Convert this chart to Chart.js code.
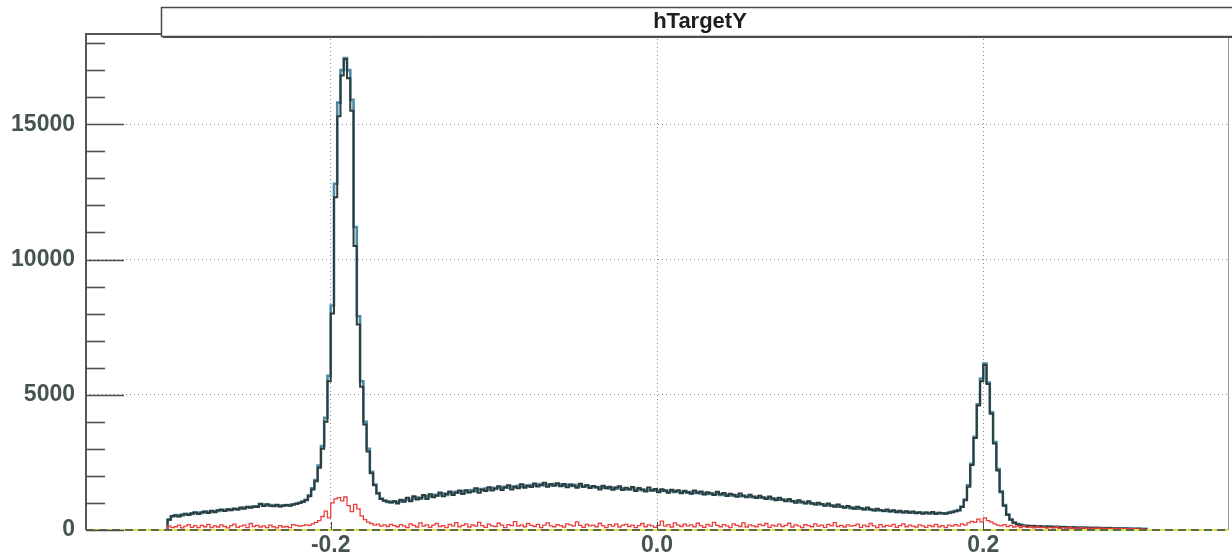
<!DOCTYPE html>
<html>
<head>
<meta charset="utf-8">
<title>hTargetY</title>
<script src="https://cdn.jsdelivr.net/npm/chart.js@4.4.1/dist/chart.umd.min.js"></script>
<style>
  html, body { margin: 0; padding: 0; background: #ffffff; }
  #wrap { width: 1232px; height: 559px; position: relative; }
</style>
</head>
<body>
<div id="wrap"><canvas id="targetChart"></canvas></div>
<script>
// histogram binning (300 bins from -0.3 to 0.3)
const binLow = -0.3;
const binWidth = 0.002;

const xRange = [-0.35, 0.35];
const yRange = [0, 18300];

const xTicks = [-0.2, 0.0, 0.2];
const xTickLabels = ["-0.2", "0.0", "0.2"];
const yTicks = [0, 5000, 10000, 15000];
const yTickLabels = ["0", "5000", "10000", "15000"];

const histTitle = "hTargetY";

// main histogram (dark)
const countsAll = [
  380, 520, 540, 500, 570, 580, 550, 620, 640, 590,
  660, 670, 630, 710, 660, 730, 740, 700, 770, 730,
  790, 760, 830, 790, 860, 820, 870, 850, 970, 890,
  950, 900, 880, 930, 870, 900, 920, 900, 940, 970,
  1000, 1040, 1100, 1250, 1500, 1800, 2300, 3000, 4000, 5500,
  8000, 12300, 15300, 16800, 17400, 16700, 15500, 10500, 7600, 5300,
  3900, 2900, 2100, 1650, 1350, 1150, 1080, 1050, 1020, 1060,
  980, 1120, 1040, 1190, 1060, 1250, 1130, 1180, 1290, 1150,
  1320, 1210, 1280, 1390, 1250, 1330, 1420, 1290, 1380, 1460,
  1330, 1470, 1390, 1420, 1540, 1380, 1500, 1440, 1580, 1460,
  1530, 1620, 1480, 1570, 1650, 1500, 1600, 1540, 1690, 1560,
  1640, 1590, 1720, 1610, 1660, 1750, 1600, 1690, 1640, 1730,
  1620, 1700, 1580, 1680, 1640, 1560, 1710, 1600, 1650, 1550,
  1630, 1580, 1500, 1640, 1540, 1600, 1490, 1570, 1620, 1480,
  1560, 1510, 1590, 1440, 1550, 1500, 1420, 1570, 1460, 1520,
  1400, 1510, 1450, 1380, 1490, 1420, 1470, 1360, 1450, 1400,
  1340, 1460, 1380, 1420, 1310, 1400, 1350, 1290, 1410, 1320,
  1370, 1260, 1340, 1300, 1230, 1350, 1270, 1210, 1300, 1240,
  1180, 1270, 1200, 1150, 1240, 1160, 1100, 1190, 1120, 1060,
  1150, 1070, 1010, 1100, 1030, 980, 1060, 990, 940, 1010,
  960, 900, 980, 910, 860, 940, 870, 820, 890, 830,
  790, 860, 800, 760, 830, 770, 720, 790, 740, 700,
  760, 690, 730, 660, 710, 650, 690, 640, 680, 620,
  660, 600, 650, 610, 670, 590, 640, 620, 600, 650,
  660, 690, 720, 850, 1100, 1600, 2400, 3400, 4600, 5500,
  6100, 5400, 4300, 3200, 2200, 1400, 900, 560, 380, 270,
  210, 180, 160, 150, 140, 150, 130, 140, 120, 130,
  120, 110, 120, 100, 110, 100, 90, 100, 90, 80,
  90, 80, 80, 70, 80, 70, 70, 60, 70, 60,
  60, 60, 50, 60, 50, 50, 40, 50, 40, 40
];

// second selection (blue), drawn underneath
const countsSel = [
  390, 500, 550, 520, 540, 600, 570, 590, 650, 620,
  630, 690, 660, 680, 690, 700, 760, 720, 740, 760,
  780, 770, 800, 820, 840, 850, 860, 880, 950, 920,
  930, 920, 900, 910, 890, 910, 920, 920, 940, 970,
  1010, 1050, 1120, 1280, 1540, 1850, 2380, 3100, 4150, 5700,
  8300, 12800, 15800, 17000, 17450, 17000, 15900, 11200, 7900, 5500,
  4000, 3000, 2150, 1680, 1370, 1160, 1090, 1040, 1030, 1050,
  1050, 1060, 1100, 1130, 1120, 1180, 1200, 1160, 1230, 1250,
  1240, 1300, 1270, 1320, 1350, 1300, 1380, 1360, 1410, 1380,
  1430, 1400, 1460, 1480, 1440, 1510, 1470, 1530, 1500, 1560,
  1520, 1570, 1550, 1600, 1560, 1610, 1580, 1630, 1600, 1640,
  1620, 1660, 1640, 1670, 1700, 1650, 1680, 1660, 1700, 1670,
  1680, 1640, 1660, 1630, 1670, 1620, 1640, 1600, 1630, 1590,
  1600, 1570, 1590, 1560, 1580, 1540, 1560, 1530, 1550, 1520,
  1530, 1500, 1520, 1490, 1510, 1470, 1490, 1460, 1480, 1450,
  1460, 1440, 1470, 1420, 1440, 1410, 1430, 1400, 1420, 1380,
  1400, 1370, 1390, 1350, 1370, 1330, 1360, 1320, 1340, 1300,
  1310, 1290, 1300, 1270, 1280, 1250, 1260, 1230, 1240, 1210,
  1220, 1190, 1200, 1170, 1180, 1140, 1150, 1120, 1130, 1090,
  1100, 1060, 1070, 1030, 1040, 1000, 1010, 970, 980, 940,
  950, 920, 930, 890, 900, 860, 870, 840, 850, 810,
  820, 790, 800, 770, 780, 750, 750, 720, 730, 700,
  710, 690, 700, 670, 680, 660, 660, 650, 650, 640,
  640, 630, 640, 620, 630, 620, 630, 610, 620, 630,
  670, 700, 740, 870, 1130, 1650, 2450, 3450, 4650, 5600,
  6150, 5450, 4350, 3250, 2250, 1430, 920, 570, 390, 280,
  220, 190, 165, 155, 145, 150, 135, 140, 125, 130,
  125, 115, 120, 105, 110, 100, 95, 100, 90, 85,
  90, 85, 80, 75, 80, 70, 70, 65, 70, 60,
  65, 60, 55, 60, 55, 50, 45, 50, 45, 40
];

// background selection (red)
const countsBkg = [
  150, 90, 120, 180, 80, 140, 200, 100, 160, 90,
  170, 120, 210, 90, 150, 110, 190, 130, 80, 160,
  220, 100, 140, 180, 90, 240, 130, 170, 110, 150,
  90, 180, 120, 80, 160, 110, 130, 90, 200, 170,
  140, 160, 190, 170, 230, 280, 350, 500, 700, 450,
  1000, 1150, 1200, 1080, 1220, 900, 680, 950, 780, 520,
  380, 290, 240, 180, 220, 140, 190, 130, 210, 160,
  120, 200, 150, 90, 230, 170, 110, 260, 140, 190,
  100, 180, 240, 130, 160, 90, 210, 150, 270, 120,
  170, 230, 110, 190, 140, 280, 160, 100, 220, 150,
  130, 250, 180, 90, 200, 160, 310, 140, 190, 120,
  240, 170, 130, 210, 90, 180, 260, 150, 120, 200,
  160, 110, 230, 190, 140, 300, 170, 100, 210, 150,
  180, 120, 250, 160, 90, 200, 140, 230, 110, 170,
  210, 130, 180, 90, 160, 240, 120, 190, 150, 100,
  170, 330, 140, 200, 110, 260, 180, 130, 220, 150,
  190, 120, 250, 160, 100, 210, 140, 280, 170, 120,
  200, 150, 90, 230, 170, 130, 260, 110, 190, 150,
  120, 210, 160, 240, 100, 180, 140, 220, 130, 170,
  250, 110, 190, 150, 90, 200, 160, 120, 230, 140,
  180, 100, 210, 150, 270, 130, 170, 110, 190, 140,
  160, 220, 100, 180, 130, 240, 150, 90, 200, 120,
  170, 140, 210, 100, 160, 230, 120, 180, 140, 110,
  190, 150, 100, 170, 130, 210, 120, 160, 90, 180,
  140, 200, 150, 230, 180, 260, 320, 280, 400, 300,
  450, 350, 290, 230, 180, 150, 200, 130, 170, 110,
  140, 90, 160, 100, 120, 80, 130, 90, 110, 70,
  100, 80, 120, 60, 90, 70, 100, 60, 80, 70,
  90, 60, 70, 50, 80, 60, 70, 50, 60, 50,
  60, 40, 50, 60, 40, 50, 40, 30, 40, 30
];

const labelColor = "#46544f";
const labelFont = { family: "'Liberation Sans', Arial, sans-serif", size: 23, weight: "bold" };

// turn bin contents into a step outline (low edge of every bin, closed at both ends)
function histPoints(counts) {
  const pts = [{ x: binLow, y: 0 }];
  counts.forEach((c, i) => {
    pts.push({ x: binLow + i * binWidth, y: c });
  });
  pts.push({ x: binLow + counts.length * binWidth, y: 0 });
  return pts;
}

// ticks drawn inside the frame, plus the frame and the title pave
const frameAndPave = {
  id: "frameAndPave",
  afterDraw(chart) {
    const ctx = chart.ctx;
    const area = chart.chartArea;
    const xs = chart.scales.x;
    const ys = chart.scales.y;

    ctx.save();
    // y ticks, minor every 1000, major on labelled values
    ctx.strokeStyle = "#4d4d4d";
    ctx.lineWidth = 1.6;
    ys.ticks.forEach((t) => {
      const py = Math.round(ys.getPixelForValue(t.value)) + 0.5;
      const len = yTicks.includes(t.value) ? 38 : 19;
      ctx.beginPath();
      ctx.moveTo(area.left, py);
      ctx.lineTo(area.left + len, py);
      ctx.stroke();
    });
    // x ticks
    ctx.lineWidth = 1;
    xs.ticks.forEach((t) => {
      const px = Math.round(xs.getPixelForValue(t.value)) + 0.5;
      ctx.beginPath();
      ctx.moveTo(px, area.bottom);
      ctx.lineTo(px, area.bottom - 8);
      ctx.stroke();
    });

    // frame
    ctx.strokeStyle = "#9a9a9a";
    ctx.lineWidth = 1;
    ctx.beginPath();
    ctx.moveTo(area.right + 0.5, area.top);
    ctx.lineTo(area.right + 0.5, area.bottom);
    ctx.stroke();

    ctx.strokeStyle = "#555555";
    ctx.lineWidth = 2;
    ctx.beginPath();
    ctx.moveTo(area.left, area.top - 2);
    ctx.lineTo(area.left, area.bottom);
    ctx.moveTo(area.left, area.top - 1);
    ctx.lineTo(170, area.top - 1);
    ctx.stroke();

    // title pave
    const boxL = 161, boxT = 7, boxB = 36;
    ctx.fillStyle = "#ffffff";
    ctx.fillRect(boxL, boxT, chart.width - boxL + 5, boxB - boxT);
    ctx.strokeStyle = "#4a4a4a";
    ctx.lineWidth = 1.5;
    ctx.strokeRect(boxL + 0.5, boxT + 0.5, chart.width - boxL + 5, boxB - boxT);
    ctx.beginPath();
    ctx.lineWidth = 1;
    ctx.moveTo(boxL + 2, boxB + 1.5);
    ctx.lineTo(chart.width, boxB + 1.5);
    ctx.stroke();

    ctx.fillStyle = "#1e1e1e";
    ctx.font = "bold 22px 'Liberation Sans', Arial, sans-serif";
    ctx.textAlign = "center";
    ctx.textBaseline = "middle";
    ctx.fillText(histTitle, 700, 22);
    ctx.restore();
  },
};

const ctx = document.getElementById("targetChart");

const myChart = new Chart(ctx, {
  type: "line",
  data: {
    datasets: [
      {
        label: "zero",
        data: [{ x: xRange[0], y: 0 }, { x: xRange[1], y: 0 }],
        borderColor: "#5d6b4b",
        borderWidth: 2,
        borderDash: [8, 5],
        order: 0,
        clip: 4,
      },
      {
        label: "zero-under",
        data: [{ x: xRange[0], y: 0 }, { x: xRange[1], y: 0 }],
        borderColor: "#e0e04e",
        borderWidth: 2.2,
        order: 1,
        clip: 4,
      },
      {
        label: "all",
        data: histPoints(countsAll),
        borderColor: "#2c3d3b",
        borderWidth: 2,
        stepped: true,
        order: 3,
        clip: 4,
      },
      {
        label: "bkg",
        data: histPoints(countsBkg),
        borderColor: "#ec3f3c",
        borderWidth: 1.3,
        stepped: true,
        order: 2,
        clip: 4,
      },
      {
        label: "sel",
        data: histPoints(countsSel),
        borderColor: "#4d8aa6",
        borderWidth: 2.6,
        stepped: true,
        order: 4,
        clip: 4,
      },
    ],
  },
  options: {
    responsive: true,
    maintainAspectRatio: false,
    animation: false,
    parsing: false,
    normalized: true,
    elements: {
      point: { radius: 0, hoverRadius: 0 },
      line: { tension: 0, fill: false },
    },
    layout: {
      padding: { top: 35, right: 4, left: 0, bottom: 0 },
    },
    scales: {
      x: {
        type: "linear",
        min: xRange[0],
        max: xRange[1],
        afterBuildTicks: (scale) => {
          scale.ticks = xTicks.map((v) => ({ value: v }));
        },
        afterFit: (scale) => {
          scale.height = 29;
        },
        ticks: {
          autoSkip: false,
          maxRotation: 0,
          padding: 2,
          color: labelColor,
          font: labelFont,
          callback: (value, index) => xTickLabels[index],
        },
        grid: {
          color: "#8c8c8c",
          lineWidth: 1,
          drawTicks: false,
        },
        border: { display: false, dash: [1, 3] },
      },
      y: {
        type: "linear",
        min: yRange[0],
        max: yRange[1],
        afterBuildTicks: (scale) => {
          const t = [];
          for (let v = 0; v <= yRange[1]; v += 1000) t.push({ value: v });
          scale.ticks = t;
        },
        afterFit: (scale) => {
          scale.width = 86;
        },
        ticks: {
          autoSkip: false,
          padding: 11,
          color: labelColor,
          font: labelFont,
          callback: (value) => {
            const k = yTicks.indexOf(value);
            return k >= 0 ? yTickLabels[k] : "";
          },
        },
        grid: {
          color: (c) =>
            c.tick && c.tick.value > 0 && yTicks.includes(c.tick.value)
              ? "#8c8c8c"
              : "rgba(0,0,0,0)",
          lineWidth: 1,
          drawTicks: false,
        },
        border: { display: false, dash: [1, 3] },
      },
    },
    plugins: {
      legend: { display: false },
      title: { display: false },
      tooltip: { enabled: false },
    },
  },
  plugins: [frameAndPave],
});
</script>
</body>
</html>
